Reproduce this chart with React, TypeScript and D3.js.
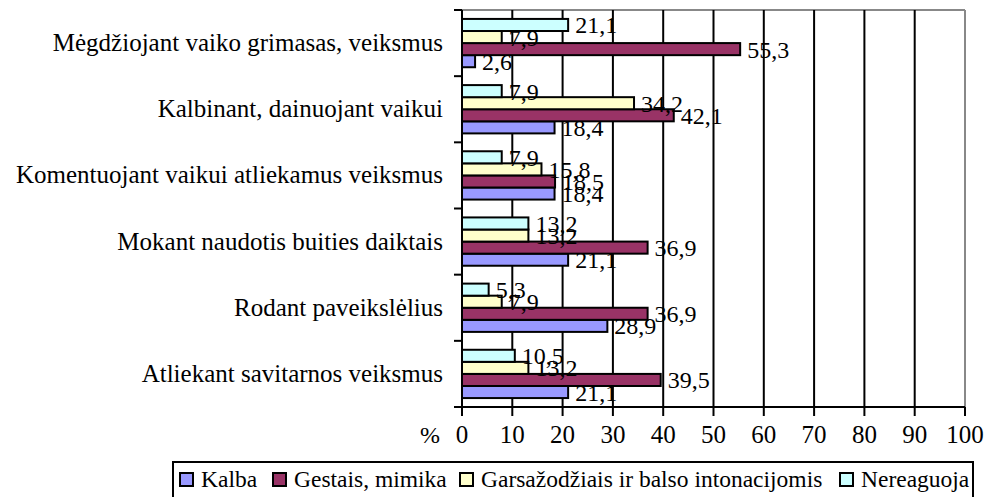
import React from "react";
import * as d3 from "d3";

const WIDTH = 987;
const HEIGHT = 497;
const PLOT = { left: 462, right: 965, top: 10, bottom: 407 };
const FONT = "Liberation Serif";

const categories = [
  "Mėgdžiojant vaiko grimasas, veiksmus",
  "Kalbinant, dainuojant vaikui",
  "Komentuojant vaikui atliekamus veiksmus",
  "Mokant naudotis buities daiktais",
  "Rodant paveikslėlius",
  "Atliekant savitarnos veiksmus",
];

const seriesNames = ["Kalba", "Gestais, mimika", "Garsažodžiais ir balso intonacijomis", "Nereaguoja"];
const seriesColors = ["#9999FF", "#993366", "#FFFFCC", "#CCFFFF"];

const kalba = [2.6, 18.4, 18.4, 21.1, 28.9, 21.1];
const gestais = [55.3, 42.1, 18.5, 36.9, 36.9, 39.5];
const garsazodziais = [7.9, 34.2, 15.8, 13.2, 7.9, 13.2];
const nereaguoja = [21.1, 7.9, 7.9, 13.2, 5.3, 10.5];

const seriesValues = [kalba, gestais, garsazodziais, nereaguoja];
const xTicks = [0, 10, 20, 30, 40, 50, 60, 70, 80, 90, 100];

// legend item start positions (x)
const legendX = [180, 273, 460, 840];

export default function App() {
  const x = d3.scaleLinear().domain([0, 100]).range([PLOT.left, PLOT.right]);
  const y = d3
    .scaleBand()
    .domain(categories)
    .range([PLOT.top, PLOT.bottom])
    .paddingInner(0.27)
    .paddingOuter(0.135);
  // Excel puts the last series at the top of each group
  const inner = d3
    .scaleBand()
    .domain(["3", "2", "1", "0"])
    .range([0, y.bandwidth()]);

  const catTicks = d3.range(categories.length + 1).map((i) => PLOT.top + (i * (PLOT.bottom - PLOT.top)) / categories.length);

  return (
    <svg width={WIDTH} height={HEIGHT} style={{ position: "absolute", left: 0, top: 0 }}>
      <rect width={WIDTH} height={HEIGHT} fill="#fff" />
      {/* frame */}
      <line x1={PLOT.left} x2={PLOT.right} y1={PLOT.top} y2={PLOT.top} stroke="#888" strokeWidth={2} />
      <line x1={PLOT.right} x2={PLOT.right} y1={PLOT.top} y2={PLOT.bottom} stroke="#888" strokeWidth={2} />
      {/* gridlines */}
      {xTicks.slice(1, -1).map((t) => (
        <line key={t} x1={x(t)} x2={x(t)} y1={PLOT.top} y2={PLOT.bottom} stroke="#000" strokeWidth={2} />
      ))}
      {/* bars */}
      {categories.map((c, ci) => (
        <g key={c} transform={`translate(0, ${y(c)})`}>
          {seriesValues.map((vals, si) => (
            <rect
              key={si}
              x={x(0)}
              y={inner(String(si))}
              width={x(vals[ci]) - x(0)}
              height={inner.bandwidth()}
              fill={seriesColors[si]}
              stroke="#000"
              strokeWidth={2}
            />
          ))}
        </g>
      ))}
      {/* axes */}
      <line x1={PLOT.left} x2={PLOT.left} y1={PLOT.top} y2={PLOT.bottom} stroke="#000" strokeWidth={2} />
      <line x1={PLOT.left - 8} x2={PLOT.right} y1={PLOT.bottom} y2={PLOT.bottom} stroke="#000" strokeWidth={2} />
      {catTicks.map((t, i) => (
        <line key={i} x1={PLOT.left - 8} x2={PLOT.left} y1={t} y2={t} stroke="#000" strokeWidth={2} />
      ))}
      <g fontFamily={FONT} fill="#000">
        {xTicks.map((t) => (
          <g key={t}>
            <line x1={x(t)} x2={x(t)} y1={PLOT.bottom} y2={PLOT.bottom + 9} stroke="#000" strokeWidth={2} />
            <text x={x(t)} y={443} textAnchor="middle" fontSize={25}>
              {t}
            </text>
          </g>
        ))}
        <text x={420} y={443} fontSize={24}>
          %
        </text>
        {/* category labels */}
        {categories.map((c) => (
          <text key={c} x={443} y={(y(c) as number) + y.bandwidth() / 2 + 8} textAnchor="end" fontSize={25}>
            {c}
          </text>
        ))}
        {/* value labels */}
        {categories.map((c, ci) =>
          seriesValues.map((vals, si) => (
            <text
              key={`${c}-${si}`}
              x={x(vals[ci]) + 7}
              y={(y(c) as number) + (inner(String(si)) as number) + inner.bandwidth() / 2 + 8.5}
              fontSize={24}
            >
              {d3.format(".1f")(vals[ci]).replace(".", ",")}
            </text>
          ))
        )}
        {/* legend */}
        <rect x={173} y={462} width={800} height={40} fill="#fff" stroke="#000" strokeWidth={2} />
        {seriesNames.map((n, i) => (
          <g key={n}>
            <rect x={legendX[i]} y={473} width={13} height={13} fill={seriesColors[i]} stroke="#000" strokeWidth={2} />
            <text x={legendX[i] + 21} y={487} fontSize={23.5}>
              {n}
            </text>
          </g>
        ))}
      </g>
    </svg>
  );
}
